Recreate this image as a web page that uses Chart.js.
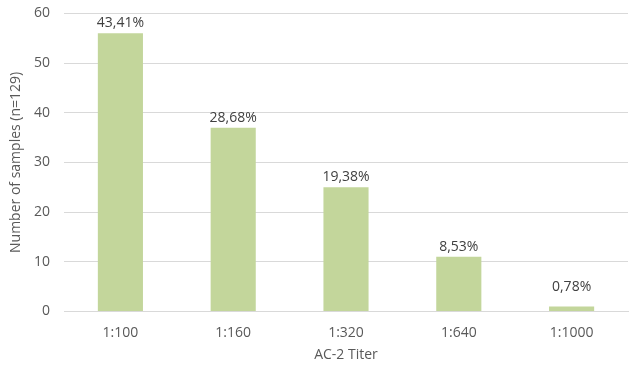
<!DOCTYPE html>
<html>
<head>
<meta charset="utf-8">
<script src="https://cdn.jsdelivr.net/npm/chart.js@4"></script>
<style>
  html, body { margin: 0; padding: 0; background: #fff; overflow: hidden; }
  #wrap { width: 641px; height: 376px; margin-top: -9px; }
</style>
</head>
<body>
<div id="wrap"><canvas id="bar-chart"></canvas></div>
<script>
// chart data
const titers = ["1:100", "1:160", "1:320", "1:640", "1:1000"];
const samples = [56, 37, 25, 11, 1];
const shares = ["43,41%", "28,68%", "19,38%", "8,53%", "0,78%"];

Chart.defaults.color = "#595959";
Chart.defaults.font.family = "'Open Sans', sans-serif";
Chart.defaults.font.size = 14;

// percentage above each bar
const barLabels = {
    id: "barLabels",
    afterDatasetsDraw(chart) {
        const ctx = chart.ctx;
        const meta = chart.getDatasetMeta(0);
        ctx.save();
        ctx.fillStyle = "#404040";
        ctx.font = "14px 'Open Sans', sans-serif";
        ctx.textAlign = "center";
        ctx.textBaseline = "bottom";
        meta.data.forEach(function (bar, i) {
            let y = bar.y - 3;
            if (i === samples.length - 1) y = bar.y - 12;
            ctx.fillText(shares[i], bar.x, y);
        });
        ctx.restore();
    }
};

const ctx = document.getElementById("bar-chart").getContext("2d");
const myChart = new Chart(ctx, {
    type: "bar",
    data: {
        labels: titers,
        datasets: [{
            data: samples,
            backgroundColor: "#c3d69b",
            barPercentage: 0.4,
            categoryPercentage: 1
        }]
    },
    options: {
        responsive: true,
        maintainAspectRatio: false,
        animation: false,
        layout: { padding: { top: -6, right: 13, left: 0, bottom: 0 } },
        plugins: {
            legend: { display: false },
            tooltip: { enabled: false }
        },
        scales: {
            x: {
                grid: { display: false },
                border: { color: "#d9d9d9" },
                ticks: { padding: 5 },
                title: { display: true, text: "AC-2 Titer", padding: { top: 0, bottom: 4 } }
            },
            y: {
                min: 0,
                max: 60,
                afterFit(scale) { scale.width = 64; },
                ticks: { stepSize: 10, padding: 14 },
                grid: { color: "#d9d9d9", drawTicks: false },
                border: { display: false },
                title: { display: true, text: "Number of samples (n=129)", padding: { top: 8, bottom: 0 } }
            }
        }
    },
    plugins: [barLabels]
});
</script>
</body>
</html>
